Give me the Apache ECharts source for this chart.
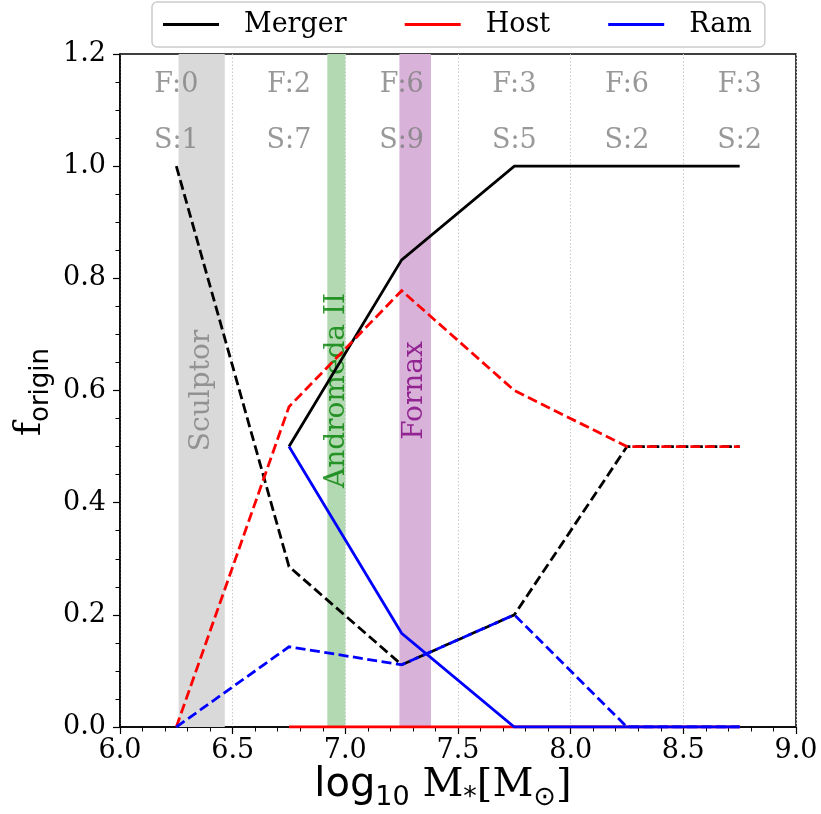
<!DOCTYPE html>
<html>
<head>
<meta charset="utf-8">
<script src="https://cdn.jsdelivr.net/npm/echarts@6/dist/echarts.min.js"></script>
<style>
  html, body { margin: 0; padding: 0; background: #fff; }
  #chart { width: 821px; height: 814px; }
</style>
</head>
<body>
<div id="chart"></div>
<script>
// Stellar-mass bin centres (log10 M*)
const binCentres = [6.25, 6.75, 7.25, 7.75, 8.25, 8.75];
// Number of objects per bin in each sample
const fCounts = [0, 2, 6, 3, 6, 3];
const sCounts = [1, 7, 9, 5, 2, 2];

// Fractions per origin channel, F sample (solid); null = empty bin
const mergerF = [null, 0.5, 0.833, 1.0, 1.0, 1.0];
const hostF   = [null, 0.0, 0.0, 0.0, 0.0, 0.0];
const ramF    = [null, 0.5, 0.167, 0.0, 0.0, 0.0];

// Fractions per origin channel, S sample (dashed)
const mergerS = [1.0, 0.286, 0.111, 0.2, 0.5, 0.5];
const hostS   = [0.0, 0.571, 0.778, 0.6, 0.5, 0.5];
const ramS    = [0.0, 0.143, 0.111, 0.2, 0.0, 0.0];

// Reference dwarfs: name, mass range, label height
const dwarfNames  = ['Sculptor', 'Andromeda II', 'Fornax'];
const dwarfLow    = [6.26, 6.92, 7.24];
const dwarfHigh   = [6.465, 7.0, 7.38];
const dwarfLabelY = [0.6, 0.6, 0.6];

// Heights of the count rows
const countRowF = 1.15;
const countRowS = 1.05;

const SERIF = 'DejaVu Serif';
const SANS = 'DejaVu Sans';
const bandFill = ['#d9d9d9', '#b2d9b2', '#d9b2d9'];
const bandText = ['#808080', '#008000', '#800080'];
const DASH = [10, 4.5];
const LW = 2.8;

function pairs(vals) {
  const out = [];
  vals.forEach((v, i) => { if (v !== null) out.push([binCentres[i], v]); });
  return out;
}

function lineSeries(name, vals, color, dashed) {
  return {
    name: name,
    type: 'line',
    data: pairs(vals),
    symbol: 'none',
    z: 3,
    lineStyle: { color: color, width: LW, type: dashed ? DASH : 'solid', cap: 'butt', join: 'miter' },
    itemStyle: { color: color },
    emphasis: { disabled: true },
    animation: false
  };
}

const chart = echarts.init(document.getElementById('chart'), null, { renderer: 'canvas' });

const bandAreas = dwarfNames.map((n, i) => [
  { xAxis: dwarfLow[i], itemStyle: { color: bandFill[i], opacity: 1 } },
  { xAxis: dwarfHigh[i] }
]);

const dwarfLabels = dwarfNames.map((n, i) => ({
  value: [(dwarfLow[i] + dwarfHigh[i]) / 2, dwarfLabelY[i]],
  label: { color: bandText[i] },
  name: n
}));

const countLabels = [];
binCentres.forEach((x, i) => {
  countLabels.push({ value: [x, countRowF], name: 'F:' + fCounts[i] });
  countLabels.push({ value: [x, countRowS], name: 'S:' + sCounts[i] });
});

const legendColors = { Merger: '#000000', Host: '#ff0000', Ram: '#0000ff' };

const option = {
  backgroundColor: '#ffffff',
  animation: false,
  grid: {
    left: 120, right: 25, top: 54, bottom: 87,
    show: true, borderColor: '#000', borderWidth: 1.5, backgroundColor: 'transparent'
  },
  legend: {
    data: ['Merger', 'Host', 'Ram'].map(n => ({ name: n, icon: 'rect', itemStyle: { color: legendColors[n] } })),
    left: 152, top: 2,
    padding: [9, 13, 9, 11],
    itemWidth: 56, itemHeight: 3, itemGap: 58,
    borderColor: '#cccccc', borderWidth: 1.5, borderRadius: 5,
    backgroundColor: '#ffffff',
    selectedMode: false,
    textStyle: { fontFamily: SERIF, fontSize: 27, color: '#000', padding: [0, 0, 0, 20] }
  },
  xAxis: {
    type: 'value', min: 6, max: 9, interval: 0.5,
    axisLine: { show: true, onZero: false, lineStyle: { color: '#000', width: 1.5 } },
    axisTick: { show: true, inside: false, length: 7, lineStyle: { color: '#000', width: 1.2 } },
    minorTick: { show: true, splitNumber: 5, length: 4.5, lineStyle: { color: '#000', width: 1 } },
    splitLine: { show: true, lineStyle: { color: '#c8c8c8', width: 1, type: [1.5, 2] } },
    axisLabel: {
      fontFamily: SERIF, fontSize: 27, color: '#000', margin: 10,
      formatter: v => v.toFixed(1)
    }
  },
  yAxis: {
    type: 'value', min: 0, max: 1.2, interval: 0.2,
    axisLine: { show: true, onZero: false, lineStyle: { color: '#000', width: 1.5 } },
    axisTick: { show: true, inside: false, length: 7, lineStyle: { color: '#000', width: 1.2 } },
    minorTick: { show: true, splitNumber: 4, length: 4.5, lineStyle: { color: '#000', width: 1 } },
    splitLine: { show: false },
    axisLabel: {
      fontFamily: SERIF, fontSize: 27, color: '#000', margin: 14,
      formatter: v => v.toFixed(1)
    }
  },
  series: [
    {
      name: 'bands', type: 'line', data: [], z: 1, silent: true,
      markArea: { silent: true, data: bandAreas, label: { show: false } }
    },
    lineSeries('Merger', mergerF, '#000000', false),
    lineSeries('Merger (S)', mergerS, '#000000', true),
    lineSeries('Host', hostF, '#ff0000', false),
    lineSeries('Host (S)', hostS, '#ff0000', true),
    lineSeries('Ram', ramF, '#0000ff', false),
    lineSeries('Ram (S)', ramS, '#0000ff', true),
    {
      name: 'dwarf labels', type: 'scatter', data: dwarfLabels, symbolSize: 0, z: 2, silent: true,
      label: {
        show: true, position: 'inside', rotate: 90,
        fontFamily: SERIF, fontSize: 28, formatter: p => p.name
      }
    },
    {
      name: 'counts', type: 'scatter', data: countLabels, symbolSize: 0, z: 4, silent: true,
      label: {
        show: true, position: 'inside', offset: [0, 3],
        fontFamily: SERIF, fontSize: 27, color: '#808080', formatter: p => p.name
      }
    }
  ],
  graphic: [
    {
      type: 'text', x: 443, y: 786,
      style: {
        text: '{a|log}{s|10}{b| M}{t|*}{b|[M}{s|\u2299}{b|]}',
        align: 'center', verticalAlign: 'middle',
        rich: {
          a: { fontFamily: SANS, fontSize: 40, lineHeight: 50, fill: '#000' },
          b: { fontFamily: SERIF, fontSize: 40, lineHeight: 50, fill: '#000' },
          s: { fontFamily: SANS, fontSize: 27, lineHeight: 23, verticalAlign: 'bottom', fill: '#000' },
          t: { fontFamily: SANS, fontSize: 27, lineHeight: 23, verticalAlign: 'bottom', fill: '#000' }
        }
      }
    },
    {
      type: 'text', x: 30, y: 392, rotation: Math.PI / 2,
      style: {
        text: '{f|f}{o|origin}',
        align: 'center', verticalAlign: 'middle',
        rich: {
          f: { fontFamily: SERIF, fontSize: 38, lineHeight: 48, fill: '#000' },
          o: { fontFamily: SANS, fontSize: 26, lineHeight: 22, verticalAlign: 'bottom', fill: '#000' }
        }
      }
    }
  ]
};

chart.setOption(option);
</script>
</body>
</html>
